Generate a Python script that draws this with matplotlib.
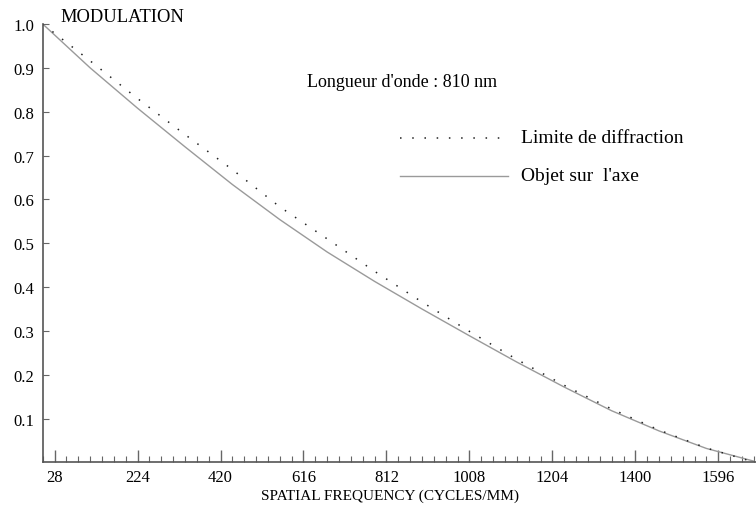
import matplotlib
matplotlib.use('Agg')
import matplotlib.pyplot as plt
from matplotlib.ticker import MultipleLocator

plt.rcParams['font.family'] = ['Liberation Serif', 'DejaVu Serif']

# spatial frequency (cycles/mm)
freq = [0, 112, 224, 336, 448, 560, 672, 784, 896, 1008, 1120, 1232, 1344, 1456, 1568, 1680]
# diffraction limit (dotted)
mtf_diff = [1.0, 0.916, 0.830, 0.748, 0.668, 0.583, 0.510, 0.436, 0.366, 0.299, 0.235,
            0.176, 0.122, 0.074, 0.033, 0.001]
# on-axis object (solid)
mtf_axis = [1.0, 0.900, 0.808, 0.720, 0.634, 0.554, 0.480, 0.413, 0.350, 0.289, 0.229,
            0.172, 0.118, 0.072, 0.032, 0.003]

xticks = [28, 224, 420, 616, 812, 1008, 1204, 1400, 1596]
yticks = [0.1, 0.2, 0.3, 0.4, 0.5, 0.6, 0.7, 0.8, 0.9, 1.0]

fig = plt.figure(figsize=(7.56, 5.06), dpi=100)
ax = fig.add_axes([0.0565, 0.084, 0.9435, 0.8666])

ax.plot(freq, mtf_axis, color='#9a9a9a', lw=1.0)
ax.plot(freq, mtf_diff, color='#222222', lw=1.1, linestyle=(0, (1, 7)))

ax.set_xlim(0, 1685)
ax.set_ylim(0, 1.0)
ax.set_xticks(xticks)
ax.xaxis.set_minor_locator(MultipleLocator(28))
ax.set_yticks(yticks)
ax.set_yticklabels(['%.1f' % v for v in yticks])

for s in ['top', 'right']:
    ax.spines[s].set_visible(False)
for s in ['left', 'bottom']:
    ax.spines[s].set_color('#555555')
    ax.spines[s].set_linewidth(1.2)

ax.tick_params(axis='x', which='major', direction='in', length=9, width=1.0,
               color='#666666', labelsize=12, pad=5)
ax.tick_params(axis='x', which='minor', direction='in', length=4, width=0.8,
               color='#666666')
ax.tick_params(axis='y', which='major', direction='in', length=4, width=0.8,
               color='#666666', labelsize=12, pad=6)

ax.set_xlabel('SPATIAL FREQUENCY (CYCLES/MM)', fontsize=11, labelpad=2)
ax.xaxis.set_label_coords(0.487, -0.06)
fig.text(60 / 756, 1 - 17 / 506, 'MODULATION', fontsize=13.3, va='center', ha='left')
fig.text(402 / 756, 1 - 83 / 506, "Longueur d'onde : 810 nm", fontsize=13,
         va='center', ha='center')

# hand-made legend
ax.plot([400 / 756, 508 / 756], [1 - 139 / 506] * 2, transform=fig.transFigure,
        color='#222222', lw=1.1, linestyle=(0, (1, 7)), clip_on=False)
ax.plot([400 / 756, 508 / 756], [1 - 177 / 506] * 2, transform=fig.transFigure,
        color='#9a9a9a', lw=1.0, clip_on=False)
fig.text(521 / 756, 1 - 139 / 506, 'Limite de diffraction', fontsize=14, va='center')
fig.text(521 / 756, 1 - 177 / 506, "Objet sur  l'axe", fontsize=14, va='center')

fig.savefig('out.png', dpi=100)
